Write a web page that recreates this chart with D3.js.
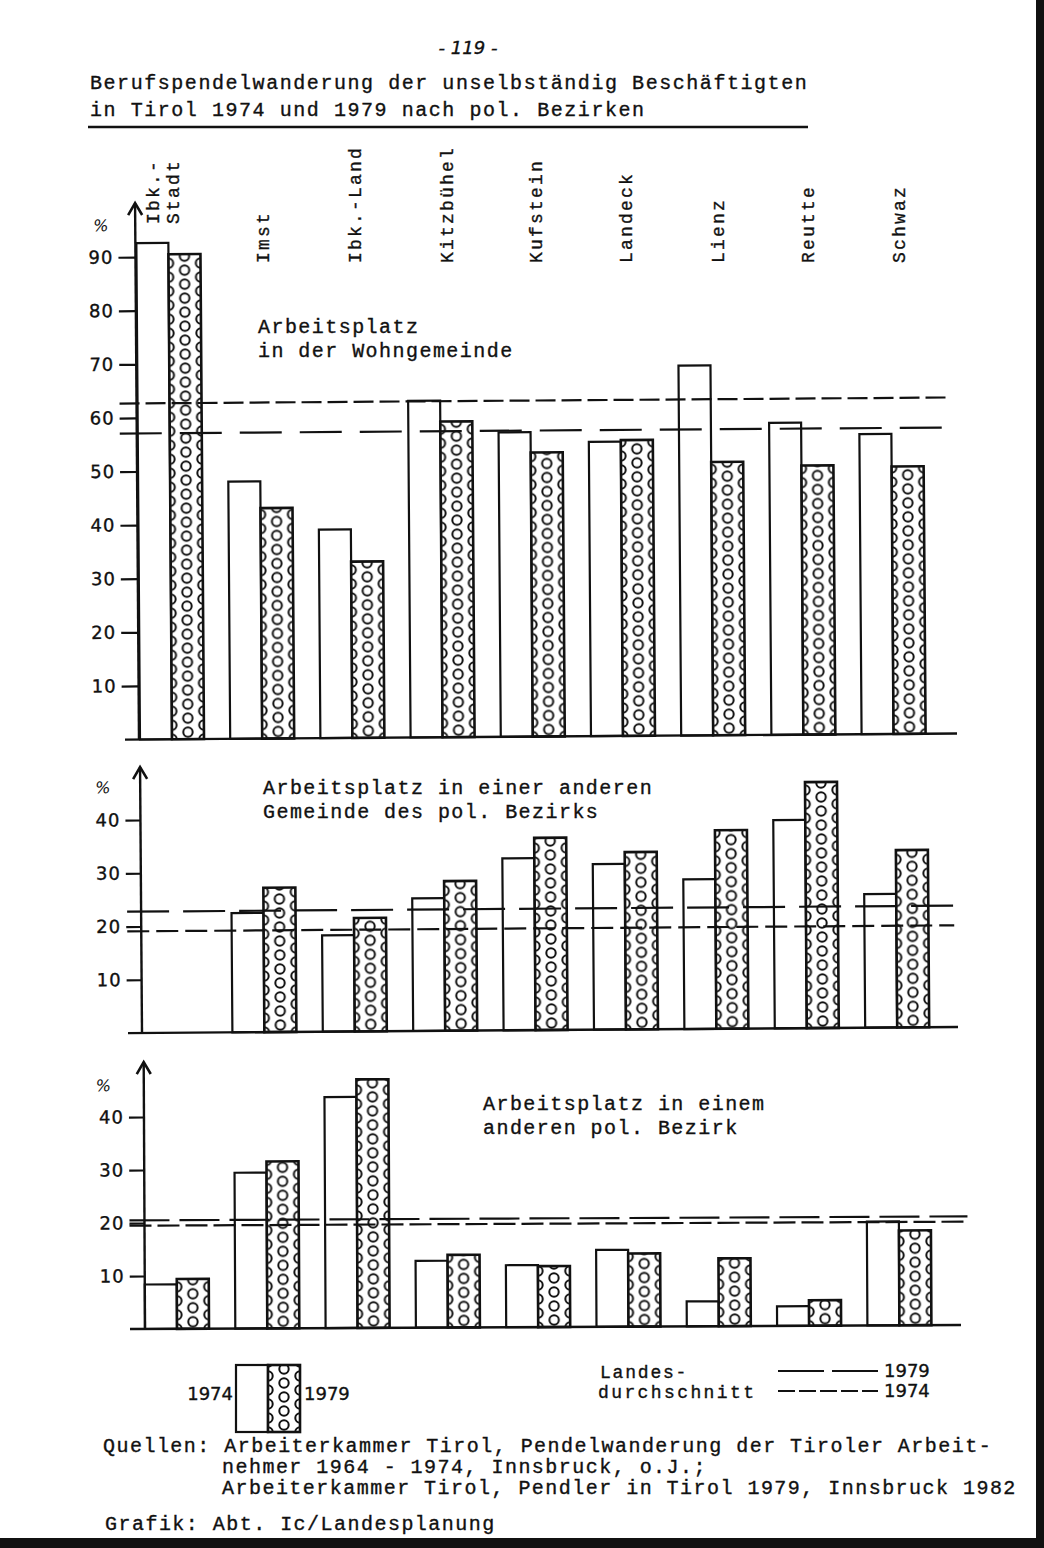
<!DOCTYPE html>
<html><head><meta charset="utf-8">
<script src="https://cdn.jsdelivr.net/npm/d3@7"></script>
<style>body{margin:0;background:#fff} svg{display:block}</style>
</head><body><svg id="c" width="1044" height="1548"></svg>
<script>
// ---------------- data ----------------
const districts = ["Ibk.-Stadt","Imst","Ibk.-Land","Kitzbühel","Kufstein","Landeck","Lienz","Reutte","Schwaz"];
const years = ["1974","1979"];
// Arbeitsplatz in der Wohngemeinde (%)
const wohn1974 = [92.6, 48.0, 38.9, 62.8, 56.8, 54.9, 69.0, 58.2, 56.0];
const wohn1979 = [90.5, 43.0, 32.9, 58.9, 53.0, 55.2, 51.0, 50.2, 49.9];
// Arbeitsplatz in einer anderen Gemeinde des pol. Bezirks (%)
const bezirk1974 = [null, 22.4, 18.1, 24.9, 32.3, 31.1, 28.1, 39.1, 25.1];
const bezirk1979 = [null, 27.1, 21.3, 28.1, 36.1, 33.3, 37.3, 46.2, 33.3];
// Arbeitsplatz in einem anderen pol. Bezirk (%)
const andere1974 = [8.4, 29.4, 43.6, 12.6, 11.7, 14.5, 4.7, 3.7, 19.6];
const andere1979 = [9.4, 31.5, 46.9, 13.7, 11.5, 13.8, 12.8, 4.8, 17.9];
// Landesdurchschnitt (top, middle, bottom panel)
const avg1974 = [62.7, 19.1, 19.5];
const avg1979 = [57.1, 22.8, 20.5];
const ticksTop = [10, 20, 30, 40, 50, 60, 70, 80, 90];
const ticksLow = [10, 20, 30, 40];

// ---------------- drawing ----------------
const INK = "#111";
const MONO = "'Liberation Mono','DejaVu Sans Mono',monospace";
const SANS = "'DejaVu Sans','Liberation Sans',sans-serif";
const svg = d3.select("#c");
svg.append("rect").attr("width",1044).attr("height",1548).attr("fill","#fff");

const defs = svg.append("defs");
const pat = defs.append("pattern").attr("id","dots")
  .attr("patternUnits","userSpaceOnUse").attr("width",32).attr("height",14);
pat.append("rect").attr("width",32).attr("height",14).attr("fill","#fff");
[[0,0],[32,0],[0,14],[32,14],[16,7]].forEach(([cx,cy]) =>
  pat.append("circle").attr("cx",cx).attr("cy",cy).attr("r",4.7)
     .attr("fill","none").attr("stroke",INK).attr("stroke-width",2));

const ink = s => s.attr("fill",INK).attr("stroke",INK).attr("stroke-width",0.35);

// page number & title
svg.append("text").attr("x",468).attr("y",54).attr("text-anchor","middle")
  .attr("font-family",SANS).attr("font-style","italic").attr("font-size",18).call(ink)
  .text("- 119 -");
const titleLines = ["Berufspendelwanderung der unselbständig Beschäftigten",
                    "in Tirol 1974 und 1979 nach pol. Bezirken"];
titleLines.forEach((t,i) => svg.append("text").attr("x",90).attr("y",89 + i*27)
  .attr("font-family",MONO).attr("font-size",20).attr("letter-spacing",1.55).call(ink).text(t));
svg.append("line").attr("x1",88).attr("x2",808).attr("y1",127).attr("y2",127)
  .attr("stroke",INK).attr("stroke-width",2.4);

// category labels (vertical)
const labelFont = g => g.attr("font-family",MONO).attr("font-size",18).attr("letter-spacing",2.2).call(ink);
const labelX = {"Imst":263,"Ibk.-Land":355,"Kitzbühel":447,"Kufstein":536,"Landeck":626,"Lienz":718,"Reutte":808,"Schwaz":899};
districts.slice(1).forEach(d => {
  svg.append("text").attr("transform",`translate(${labelX[d]+6},263) rotate(-90)`)
    .attr("text-anchor","start").call(labelFont).text(d);
});
[["Ibk.-",159],["Stadt",179]].forEach(([t,xx]) =>
  svg.append("text").attr("transform",`translate(${xx},224) rotate(-90)`).call(labelFont).text(t));

// panels
const panels = [
  {v74: wohn1974, v79: wohn1979, a74: avg1974[0], a79: avg1979[0], ticks: ticksTop, max: 100,
   base: 739.5, top: 203.5, tip: 203, axisX: 139, x0: 140, step: 90.2, tickLen: 17,
   baseL: 125, baseR: 957, dashL: 122, dashR: 952, rot: -0.42, pctY: 231,
   dash74: "20,6", dash79: "42,18"},
  {v74: bezirk1974, v79: bezirk1979, a74: avg1974[1], a79: avg1979[1], ticks: ticksLow, max: 50,
   base: 1033, top: 766.75, tip: 767, axisX: 142, x0: 142, step: 90.4, tickLen: 15,
   baseL: 128, baseR: 958, dashL: 128, dashR: 955, rot: -0.42, pctY: 793,
   dash74: "22,7", dash79: "42,14"},
  {v74: andere1974, v79: andere1979, a74: avg1974[2], a79: avg1979[2], ticks: ticksLow, max: 50,
   base: 1329, top: 1064, tip: 1062, axisX: 145, x0: 145, step: 90.3, tickLen: 15,
   baseL: 130, baseR: 961, dashL: 130, dashR: 968, rot: -0.28, pctY: 1091,
   dash74: "22,6", dash79: "40,10"}
];
const BW = 64;

panels.forEach(p => {
  const y = d3.scaleLinear().domain([0, p.max]).range([p.base, p.top]);
  const x = d3.scaleBand().domain(districts)
    .range([p.x0, p.x0 + 8*p.step + BW])
    .paddingInner((p.step - BW)/p.step).paddingOuter(0);
  const xi = d3.scaleBand().domain(years).range([0, x.bandwidth()]);
  const g = svg.append("g").attr("transform",`rotate(${p.rot},${p.axisX},${p.base})`);

  // bars
  districts.forEach((d,i) => {
    const a = p.v74[i], b = p.v79[i];
    if (a != null) {
      g.append("rect").attr("x", x(d) + xi("1974")).attr("y", y(a))
        .attr("width", xi.bandwidth()).attr("height", p.base - y(a))
        .attr("fill","#fff").attr("stroke",INK).attr("stroke-width",2.2);
    }
    if (b != null) {
      g.append("g").attr("transform",`translate(${x(d) + xi("1979")},${p.base})`)
        .append("rect").attr("x",0).attr("y", y(b) - p.base)
        .attr("width", xi.bandwidth()).attr("height", p.base - y(b))
        .attr("fill","url(#dots)").attr("stroke",INK).attr("stroke-width",2.6);
    }
  });

  // baseline
  g.append("line").attr("x1",p.baseL).attr("x2",p.baseR).attr("y1",p.base).attr("y2",p.base)
    .attr("stroke",INK).attr("stroke-width",2.4);

  // y axis
  const ax = d3.axisLeft(y).tickValues(p.ticks).tickSize(p.tickLen).tickPadding(5).tickFormat(d3.format("d"));
  const axg = g.append("g").attr("transform",`translate(${p.axisX},0)`).call(ax)
    .attr("font-family",SANS).attr("font-size",18);
  axg.select(".domain").remove();
  axg.selectAll(".tick line").attr("stroke",INK).attr("stroke-width",2.2);
  axg.selectAll(".tick text").attr("letter-spacing",1).call(ink);
  g.append("path").attr("d",`M${p.axisX},${p.base}V${p.tip}`).attr("stroke",INK).attr("stroke-width",2.4).attr("fill","none");
  g.append("path").attr("d",`M${p.axisX-7},${p.tip+12}L${p.axisX},${p.tip}L${p.axisX+7},${p.tip+12}`)
    .attr("stroke",INK).attr("stroke-width",2.6).attr("fill","none");
  g.append("text").attr("x",97).attr("y",p.pctY).attr("font-family",SANS).attr("font-size",16)
    .attr("font-style","italic").attr("fill",INK).text("%");

  // Landesdurchschnitt lines
  g.append("line").attr("x1",p.dashL).attr("x2",p.dashR).attr("y1",y(p.a74)).attr("y2",y(p.a74))
    .attr("stroke",INK).attr("stroke-width",2.2).attr("stroke-dasharray",p.dash74);
  g.append("line").attr("x1",p.dashL).attr("x2",p.dashR).attr("y1",y(p.a79)).attr("y2",y(p.a79))
    .attr("stroke",INK).attr("stroke-width",2.2).attr("stroke-dasharray",p.dash79);
});

// annotations
const annot = [
  [258, 333, ["Arbeitsplatz", "in der Wohngemeinde"]],
  [263, 794, ["Arbeitsplatz in einer anderen", "Gemeinde des pol. Bezirks"]],
  [483, 1110, ["Arbeitsplatz in einem", "anderen pol. Bezirk"]]
];
annot.forEach(([ax, ay, lines]) => lines.forEach((t,i) =>
  svg.append("text").attr("x",ax).attr("y",ay + i*24).attr("font-family",MONO)
    .attr("font-size",20).attr("letter-spacing",1.45).call(ink).text(t)));

// legend
const lg = svg.append("g");
lg.append("rect").attr("x",236).attr("y",1365).attr("width",32).attr("height",67)
  .attr("fill","#fff").attr("stroke",INK).attr("stroke-width",2.2);
lg.append("g").attr("transform","translate(268,1432)").append("rect")
  .attr("x",0).attr("y",-67).attr("width",32).attr("height",67)
  .attr("fill","url(#dots)").attr("stroke",INK).attr("stroke-width",2.6);
lg.append("text").attr("x",233).attr("y",1400).attr("text-anchor","end")
  .attr("font-family",SANS).attr("font-size",18).call(ink).text(years[0]);
lg.append("text").attr("x",304).attr("y",1400)
  .attr("font-family",SANS).attr("font-size",18).call(ink).text(years[1]);
lg.append("text").attr("x",600).attr("y",1378).attr("font-family",MONO).attr("font-size",18)
  .attr("letter-spacing",1.8).call(ink).text("Landes-");
lg.append("text").attr("x",598).attr("y",1398).attr("font-family",MONO).attr("font-size",18)
  .attr("letter-spacing",2.4).call(ink).text("durchschnitt");
lg.append("line").attr("x1",778).attr("x2",878).attr("y1",1371).attr("y2",1371)
  .attr("stroke",INK).attr("stroke-width",2.2).attr("stroke-dasharray","46,8");
lg.append("line").attr("x1",778).attr("x2",878).attr("y1",1391).attr("y2",1391)
  .attr("stroke",INK).attr("stroke-width",2.2).attr("stroke-dasharray","17,4");
lg.append("text").attr("x",884).attr("y",1377).attr("font-family",SANS).attr("font-size",18)
  .call(ink).text(years[1]);
lg.append("text").attr("x",884).attr("y",1397).attr("font-family",SANS).attr("font-size",18)
  .call(ink).text(years[0]);

// sources
const src = [
  [103, 1452, "Quellen: Arbeiterkammer Tirol, Pendelwanderung der Tiroler Arbeit-"],
  [222, 1473, "nehmer 1964 - 1974, Innsbruck, o.J.;"],
  [222, 1494, "Arbeiterkammer Tirol, Pendler in Tirol 1979, Innsbruck 1982"],
  [105, 1530, "Grafik: Abt. Ic/Landesplanung"]
];
src.forEach(([sx, sy, t]) => svg.append("text").attr("x",sx).attr("y",sy)
  .attr("font-family",MONO).attr("font-size",20).attr("letter-spacing",1.47).call(ink).text(t));

// scan frame
svg.append("rect").attr("x",1036).attr("y",0).attr("width",8).attr("height",1548).attr("fill",INK);
svg.append("rect").attr("x",0).attr("y",1538).attr("width",1044).attr("height",10).attr("fill",INK);
</script></body></html>
